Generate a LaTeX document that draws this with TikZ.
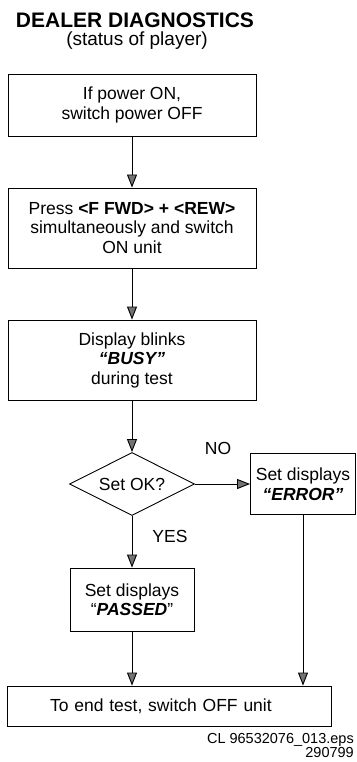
\documentclass[tikz,border=0pt]{standalone}
\usepackage{fontspec}
\setmainfont{Liberation Sans}
\usetikzlibrary{arrows.meta,positioning,shapes.geometric}

\begin{document}
\begin{tikzpicture}[x=1pt,y=-1pt,
  box/.style={draw,line width=.9pt,align=center,inner sep=0pt,font=\fontsize{17.5}{19.5}\selectfont},
  flow/.style={line width=.9pt,-{Triangle[width=10pt,length=13pt,fill=black!55]}}]
\useasboundingbox (0,0) rectangle (356,762);
\node[font=\bfseries\fontsize{21}{24}\selectfont] (title) at (135,20) {DEALER DIAGNOSTICS};
\node[font=\fontsize{19}{22}\selectfont] (sub) at (137,41) {(status of player)};
\node[box,minimum width=248pt,minimum height=62pt] (off) at (132,105) {If power ON,\\switch power OFF};
\node[box,minimum width=248pt,minimum height=80pt] (press) at (132,228) {Press \textbf{<F FWD> + <REW>}\\simultaneously and switch\\ON unit};
\node[box,minimum width=248pt,minimum height=80pt] (busy) at (132,360) {Display blinks\\\textbf{\itshape “BUSY”}\\during test};
\node[box,diamond,aspect=2,minimum width=125pt,minimum height=63pt] (check) at (132,484) {Set OK?};
\node[box,minimum width=105pt,minimum height=61pt] (err) at (303,484) {Set displays\\\textbf{\itshape “ERROR”}};
\node[box,minimum width=124pt,minimum height=63pt] (pass) at (132,599.5) {Set displays\\“\textbf{\itshape PASSED}”};
\node[box,text width=238pt,align=left,inner xsep=43pt,minimum height=40pt] (stop) at (169,706) {To end test, switch OFF unit};
\node[font=\fontsize{17.5}{19.5}\selectfont] (no) at (218,448) {NO};
\node[font=\fontsize{17.5}{19.5}\selectfont] (yes) at (170,536) {YES};
\node[anchor=north east,align=right,inner sep=0pt,font=\fontsize{14.5}{14}\selectfont] (ref) at (354,733) {CL 96532076\_013.eps\\290799};
% connectors
\draw[flow] (off) -- (press);
\draw[flow] (press) -- (busy);
\draw[flow] (busy) -- (check);
\draw[flow] (check) -- (err);
\draw[flow] (check) -- (pass);
\draw[flow] (pass) -- (pass |- stop.north);
\draw[flow] (err) -- (err |- stop.north);
\end{tikzpicture}
\end{document}
